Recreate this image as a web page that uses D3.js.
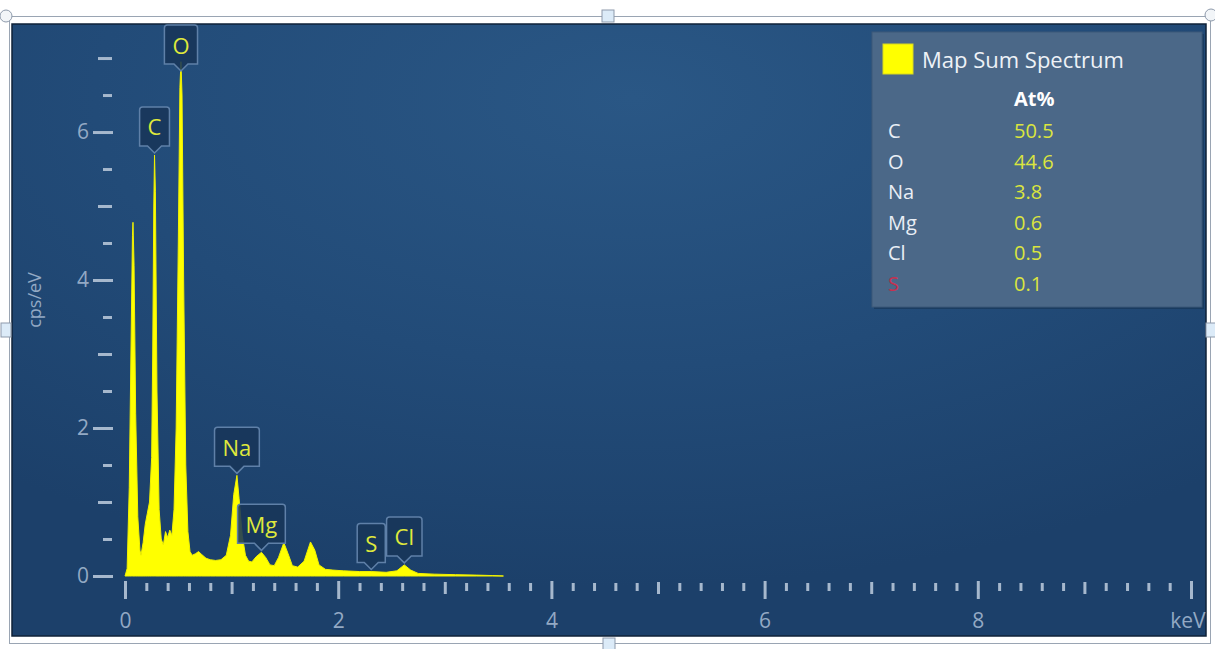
<!DOCTYPE html>
<html>
<head>
<meta charset="utf-8">
<script src="https://cdn.jsdelivr.net/npm/d3@7"></script>
<style>
  html, body { margin: 0; padding: 0; background: #ffffff; }
  svg { display: block; font-family: "Open Sans", "Noto Sans", sans-serif; }
</style>
</head>
<body>
<svg id="chart" width="1215" height="649"></svg>
<script>
// EDS spectrum: energy (keV) and intensity (cps/eV) samples
const spectrumKeV = [
  0.00, 0.02, 0.04, 0.06, 0.07, 0.075, 0.085, 0.10, 0.12, 0.14,
  0.15, 0.17, 0.19, 0.21, 0.23, 0.25, 0.26, 0.27, 0.277, 0.285,
  0.30, 0.32, 0.34, 0.36, 0.38, 0.40, 0.42, 0.44, 0.46, 0.48,
  0.50, 0.515, 0.525, 0.535, 0.55, 0.57, 0.59, 0.61, 0.63, 0.66,
  0.69, 0.72, 0.76, 0.80, 0.85, 0.90, 0.95, 0.99, 1.02, 1.05,
  1.07, 1.10, 1.13, 1.16, 1.19, 1.23, 1.28, 1.32, 1.36, 1.40,
  1.44, 1.49, 1.53, 1.57, 1.62, 1.68, 1.74, 1.78, 1.82, 1.88,
  1.95, 2.05, 2.20, 2.31, 2.45, 2.55, 2.62, 2.68, 2.75, 2.90,
  3.10, 3.30, 3.45, 3.55
];
const spectrumCps = [
  0.00, 0.10, 1.20, 3.50, 4.60, 4.78, 4.20, 2.20, 0.80, 0.35,
  0.28, 0.45, 0.70, 0.85, 1.00, 1.60, 3.00, 5.00, 5.69, 5.20,
  2.50, 0.90, 0.50, 0.42, 0.60, 0.52, 0.62, 0.55, 0.90, 2.00,
  4.50, 6.60, 6.95, 6.50, 4.00, 1.50, 0.60, 0.33, 0.28, 0.30,
  0.33, 0.29, 0.24, 0.22, 0.21, 0.22, 0.28, 0.55, 1.10, 1.36,
  1.05, 0.55, 0.28, 0.20, 0.19, 0.26, 0.32, 0.25, 0.15, 0.14,
  0.25, 0.45, 0.30, 0.14, 0.12, 0.20, 0.46, 0.35, 0.15, 0.09,
  0.08, 0.07, 0.06, 0.06, 0.05, 0.07, 0.15, 0.08, 0.035, 0.025,
  0.018, 0.012, 0.006, 0.00
];

// Axis ticks
const xMajorTicks = [0, 2, 4, 6, 8, 10];
const xTickLabels = ["0", "2", "4", "6", "8", "keV"];
const xMidTicks = [1, 3, 5, 7, 9];
const xMinorStep = 0.2;
const yMajorTicks = [0, 2, 4, 6];
const yTickLabels = ["0", "2", "4", "6"];
const yMidTicks = [1, 3, 5, 7];
const yMinorTicks = [0.5, 1.5, 2.5, 3.5, 4.5, 5.5, 6.5];

// Identified element peaks
const peakElements = ["C", "O", "Na", "Mg", "S", "Cl"];
const peakKeV = [0.277, 0.525, 1.05, 1.28, 2.31, 2.62];

// Quantification table
const quantElements = ["C", "O", "Na", "Mg", "Cl", "S"];
const quantAtPercent = [50.5, 44.6, 3.8, 0.6, 0.5, 0.1];
const seriesName = "Map Sum Spectrum";

const svg = d3.select("#chart");
const panel = { x: 12, y: 24, w: 1194, h: 612 };

const x = d3.scaleLinear().domain([0, 10]).range([125, 1191]);
const y = d3.scaleLinear().domain([0, 7.46]).range([576, 24]);

const defs = svg.append("defs");
const grad = defs.append("radialGradient").attr("id", "bg")
  .attr("cx", "50%").attr("cy", "12%").attr("r", "80%")
  .attr("fx", "52%").attr("fy", "12%");
grad.append("stop").attr("offset", "0%").attr("stop-color", "#2a5785");
grad.append("stop").attr("offset", "55%").attr("stop-color", "#224b78");
grad.append("stop").attr("offset", "100%").attr("stop-color", "#1c406a");

defs.append("clipPath").attr("id", "panelClip")
  .append("rect").attr("x", panel.x).attr("y", panel.y)
  .attr("width", panel.w).attr("height", panel.h);

// Selection frame around the embedded chart
svg.append("rect")
  .attr("x", 9.5).attr("y", 16.5).attr("width", 1201).attr("height", 627)
  .attr("fill", "none").attr("stroke", "#9aa5b3").attr("stroke-width", 1);

// Chart panel
svg.append("rect")
  .attr("x", panel.x).attr("y", panel.y).attr("width", panel.w).attr("height", panel.h)
  .attr("fill", "url(#bg)").attr("stroke", "#0f2238").attr("stroke-width", 1.5);

const g = svg.append("g").attr("clip-path", "url(#panelClip)");

// Spectrum area
const pts = spectrumKeV.map((k, i) => [k, spectrumCps[i]]);
const area = d3.area()
  .x(d => x(d[0]))
  .y0(y(0))
  .y1(d => y(d[1]))
  .curve(d3.curveLinear);
g.append("path").datum(pts)
  .attr("d", area)
  .attr("fill", "#ffff00")
  .attr("stroke", "#f2f200")
  .attr("stroke-width", 1);

// Axes
const tickColor = "#a6b8cd";
const labelColor = "#93a9c4";

function styleAxis(sel) {
  sel.select(".domain").remove();
  sel.selectAll(".tick line").attr("stroke", tickColor).attr("stroke-width", 3);
  sel.selectAll(".tick text").attr("fill", labelColor)
    .style("font-size", "21px").style("font-family", "'Open Sans', sans-serif");
}

const xMinorTicks = d3.range(0, 10.001, xMinorStep)
  .map(v => +v.toFixed(1))
  .filter(v => Math.abs(v - Math.round(v)) > 1e-6);

g.append("g").attr("transform", "translate(0,583)")
  .call(d3.axisBottom(x).tickValues(xMinorTicks).tickSize(8).tickFormat(""))
  .call(styleAxis);
g.append("g").attr("transform", "translate(0,582)")
  .call(d3.axisBottom(x).tickValues(xMidTicks).tickSize(12).tickFormat(""))
  .call(styleAxis);
const xMajor = g.append("g").attr("transform", "translate(0,581)")
  .call(d3.axisBottom(x).tickValues(xMajorTicks).tickSize(18).tickPadding(14)
    .tickFormat((d, i) => xTickLabels[i]))
  .call(styleAxis);
xMajor.selectAll(".tick").filter(d => d === 10).select("text")
  .attr("text-anchor", "end").attr("x", 14);

g.append("g").attr("transform", "translate(112,0)")
  .call(d3.axisLeft(y).tickValues(yMinorTicks).tickSize(9).tickFormat(""))
  .call(styleAxis);
g.append("g").attr("transform", "translate(112,0)")
  .call(d3.axisLeft(y).tickValues(yMidTicks).tickSize(14).tickFormat(""))
  .call(styleAxis);
g.append("g").attr("transform", "translate(113,0)")
  .call(d3.axisLeft(y).tickValues(yMajorTicks).tickSize(20).tickPadding(4)
    .tickFormat((d, i) => yTickLabels[i]))
  .call(styleAxis);

// Y axis title
g.append("text")
  .attr("transform", "translate(41,300) rotate(-90)")
  .attr("text-anchor", "middle")
  .attr("fill", labelColor)
  .style("font-size", "18px")
  .text("cps/eV");

// Peak labels with pointer boxes
const interp = k => {
  const i = d3.bisector(d => d).left(spectrumKeV, k);
  if (i <= 0) return spectrumCps[0];
  if (i >= spectrumKeV.length) return spectrumCps[spectrumKeV.length - 1];
  const k0 = spectrumKeV[i - 1], k1 = spectrumKeV[i];
  const t = (k - k0) / (k1 - k0);
  return spectrumCps[i - 1] + t * (spectrumCps[i] - spectrumCps[i - 1]);
};

const boxH = 39, notch = 7, notchW = 7, pad = 8, r = 3;
peakElements.forEach((el, i) => {
  const cx = x(peakKeV[i]);
  let tipY = y(interp(peakKeV[i])) - 2;
  // keep the box inside the panel
  const minTip = panel.y + 1 + boxH + notch;
  if (tipY < minTip) tipY = minTip;
  const lg = g.append("g");
  const txt = lg.append("text")
    .attr("x", cx).attr("text-anchor", "middle")
    .attr("fill", "#dfe83c")
    .style("font-size", "22px").style("font-weight", "500")
    .text(el);
  const tw = txt.node().getComputedTextLength();
  const w = tw + pad * 2;
  const x0 = cx - w / 2, x1 = cx + w / 2;
  const yb = tipY - notch, yt = yb - boxH;
  const p = d3.path();
  p.moveTo(x0 + r, yt);
  p.lineTo(x1 - r, yt);
  p.quadraticCurveTo(x1, yt, x1, yt + r);
  p.lineTo(x1, yb);
  p.lineTo(cx + notchW, yb);
  p.lineTo(cx, tipY);
  p.lineTo(cx - notchW, yb);
  p.lineTo(x0, yb);
  p.lineTo(x0, yt + r);
  p.quadraticCurveTo(x0, yt, x0 + r, yt);
  p.closePath();
  lg.insert("path", "text").attr("d", p.toString())
    .attr("fill", "#183659").attr("fill-opacity", 0.88)
    .attr("stroke", "#5f80a8").attr("stroke-width", 1.5);
  txt.attr("y", (yt + yb) / 2 + 9);
});

// Quantification legend
const lx = 872, ly = 32, lw = 330, lh = 275;
svg.append("rect").attr("x", lx + 2).attr("y", ly + 2).attr("width", lw).attr("height", lh)
  .attr("fill", "#163354").attr("opacity", 0.6);
svg.append("rect").attr("x", lx).attr("y", ly).attr("width", lw).attr("height", lh)
  .attr("fill", "#4b6888").attr("stroke", "#3c5878").attr("stroke-width", 1);
svg.append("rect").attr("x", 883).attr("y", 44).attr("width", 30).attr("height", 30)
  .attr("fill", "#ffff00").attr("stroke", "#d8d820").attr("stroke-width", 1);
svg.append("text").attr("x", 922).attr("y", 68)
  .attr("fill", "#eef2f7").style("font-size", "22px").text(seriesName);
svg.append("text").attr("x", 1014).attr("y", 106)
  .attr("fill", "#ffffff").style("font-size", "20px").style("font-weight", "700").text("At%");

const rowY = d3.scaleLinear().domain([0, 5]).range([138, 291]);
quantElements.forEach((el, i) => {
  svg.append("text").attr("x", 888).attr("y", rowY(i))
    .attr("fill", el === "S" ? "#c8304f" : "#e9eef5")
    .style("font-size", "20px").text(el);
  svg.append("text").attr("x", 1014).attr("y", rowY(i))
    .attr("fill", "#dbe53e")
    .style("font-size", "20px").text(quantAtPercent[i].toFixed(1));
});

// Selection handles
const handleFill = "#dcebf8", handleStroke = "#8e9aab";
[[608, 16], [609, 644]].forEach(([hx, hy]) => {
  svg.append("rect").attr("x", hx - 6).attr("y", hy - 6).attr("width", 12).attr("height", 12)
    .attr("fill", handleFill).attr("stroke", handleStroke);
});
[[6, 330], [1211, 330]].forEach(([hx, hy]) => {
  svg.append("rect").attr("x", hx - 5).attr("y", hy - 7).attr("width", 10).attr("height", 14)
    .attr("fill", handleFill).attr("stroke", handleStroke);
});
[[6, 16], [1211, 15]].forEach(([hx, hy]) => {
  svg.append("circle").attr("cx", hx).attr("cy", hy).attr("r", 6)
    .attr("fill", "#f2f5f8").attr("stroke", handleStroke);
});
</script>
</body>
</html>
